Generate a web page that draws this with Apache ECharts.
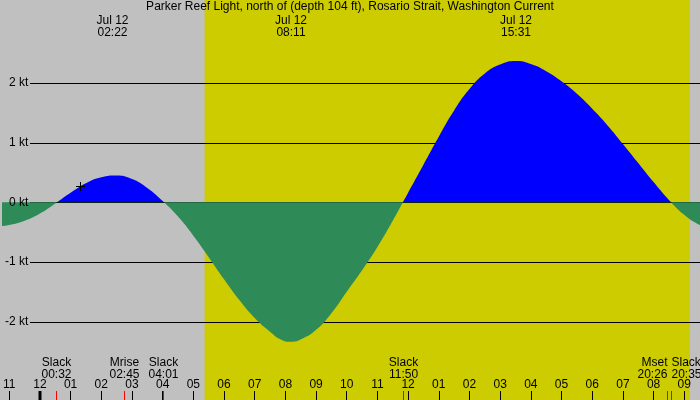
<!DOCTYPE html>
<html>
<head>
<meta charset="utf-8">
<script src="https://cdn.jsdelivr.net/npm/echarts@6/dist/echarts.min.js"></script>
<style>
  html, body { margin: 0; padding: 0; background: #c0c0c0; }
  #chart { width: 700px; height: 400px; }
</style>
</head>
<body>
<div id="chart"></div>
<script>
const title = "Parker Reef Light, north of (depth 104 ft), Rosario Strait, Washington Current";
const dateLabel = "Jul 12";

// current: hours after midnight, knots (+ flood, - ebb)
const hours = [-1.5, -1, -0.5, 0, 0.5, 1, 1.5, 2, 2.5, 3, 3.5, 4, 4.5, 5, 5.5, 6, 6.5, 7, 7.5,
  7.85, 8.18, 8.55, 9, 9.5, 10, 10.5, 11, 11.5, 12, 12.5, 13, 13.5, 14, 14.5, 15, 15.5, 16, 16.5,
  17, 17.5, 18, 18.5, 19, 19.5, 20, 20.5, 21, 21.5, 22];
const speeds = [-0.41, -0.38, -0.31, -0.19, -0.02, 0.16, 0.32, 0.42, 0.45, 0.39, 0.24, 0.02,
  -0.24, -0.56, -0.92, -1.29, -1.64, -1.94, -2.17, -2.30, -2.34, -2.29, -2.14, -1.86, -1.50, -1.14,
  -0.75, -0.31, 0.16, 0.63, 1.1, 1.54, 1.9, 2.16, 2.31, 2.37, 2.32, 2.20, 2.03, 1.82, 1.57,
  1.29, 0.98, 0.66, 0.34, 0.04, -0.21, -0.38, -0.48];

const extremes = ["02:22", "08:11", "15:31"];
const eventNames = ["Slack", "Mrise", "Slack", "Slack", "Mset", "Slack"];
const eventTimes = ["00:32", "02:45", "04:01", "11:50", "20:26", "20:35"];
const daylight = ["05:22", "21:11"];
const midnights = [0];
const nowMark = [1.32, 0.28];

const hourTicks = [-1, 0, 1, 2, 3, 4, 5, 6, 7, 8, 9, 10, 11, 12, 13, 14, 15, 16, 17, 18, 19, 20, 21];
const ktTicks = [-2, -1, 0, 1, 2];

const xMin = -1.221, xMax = 21.513;
const yMin = -3.317, yMax = 3.394;
const font = "Liberation Sans, Arial, sans-serif";

function toHours(s) {
  const [h, m] = s.split(":").map(Number);
  return h + m / 60;
}
function hourLabel(h) {
  const v = ((h % 12) + 12) % 12 || 12;
  return String(v).padStart(2, "0");
}

const curve = hours.map((h, i) => [h, speeds[i]]);
const eventHours = eventTimes.map(toHours);

// fill split at the zero line (grid covers the whole canvas)
const zeroAt = yMax / (yMax - yMin);
function splitFill(above, below) {
  return {
    type: "linear", x: 0, y: 0, x2: 0, y2: 400, global: true,
    colorStops: [
      { offset: 0, color: above },
      { offset: zeroAt, color: above },
      { offset: zeroAt, color: below },
      { offset: 1, color: below },
    ],
  };
}

const chart = echarts.init(document.getElementById("chart"));

const option = {
  backgroundColor: "#c0c0c0",
  animation: false,
  title: {
    text: title,
    left: "center",
    top: 1,
    padding: 0,
    textStyle: { fontSize: 12, fontWeight: "normal", color: "#000", fontFamily: font },
  },
  grid: { left: 0, right: 0, top: 0, bottom: 0 },
  xAxis: {
    type: "value",
    min: xMin,
    max: xMax,
    z: 10,
    axisLine: { show: false, onZero: false },
    splitLine: { show: false },
    axisTick: {
      inside: true,
      length: 9,
      customValues: hourTicks,
      lineStyle: { color: "#000", width: 1 },
    },
    axisLabel: {
      inside: true,
      margin: 9,
      customValues: hourTicks,
      formatter: (v) => hourLabel(v),
      color: "#000",
      fontSize: 12,
      fontFamily: font,
    },
  },
  yAxis: {
    type: "value",
    min: yMin,
    max: yMax,
    z: 10,
    axisLine: { show: false },
    splitLine: { show: false },
    axisTick: { show: false },
    axisLabel: {
      inside: true,
      align: "right",
      margin: 26,
      customValues: ktTicks,
      formatter: "{value} kt",
      color: "#000",
      fontSize: 12,
      fontFamily: font,
    },
  },
  series: [
    {
      // daylight band
      type: "custom",
      z: 1,
      silent: true,
      data: [daylight.map(toHours)],
      encode: { x: [0, 1] },
      renderItem: (params, api) => {
        const x1 = api.coord([api.value(0), 0])[0];
        const x2 = api.coord([api.value(1), 0])[0];
        return {
          type: "rect",
          shape: { x: x1, y: 0, width: x2 - x1, height: api.getHeight() },
          style: { fill: "#cccc00" },
        };
      },
    },
    {
      // grid lines
      type: "custom",
      z: 2,
      silent: true,
      data: ktTicks.filter((v) => v !== 0).map((v) => [v]),
      encode: { y: 0 },
      renderItem: (params, api) => {
        const y = Math.round(api.coord([xMin, api.value(0)])[1]) + 0.5;
        return {
          type: "line",
          shape: { x1: 30, y1: y, x2: api.getWidth(), y2: y },
          style: { stroke: "#000", lineWidth: 1 },
        };
      },
    },
    {
      name: "flood",
      type: "line",
      z: 3,
      smooth: 0.5,
      showSymbol: false,
      silent: true,
      data: curve,
      lineStyle: { width: 0, opacity: 0 },
      areaStyle: { opacity: 1, color: splitFill("#0000ff", "rgba(0,0,0,0)") },
    },
    {
      // zero line
      type: "custom",
      z: 4,
      silent: true,
      data: [[0]],
      encode: { y: 0 },
      renderItem: (params, api) => {
        const y = Math.round(api.coord([xMin, api.value(0)])[1]) + 0.5;
        return {
          type: "line",
          shape: { x1: 30, y1: y, x2: api.getWidth(), y2: y },
          style: { stroke: "#000", lineWidth: 1 },
        };
      },
    },
    {
      name: "ebb",
      type: "line",
      z: 5,
      smooth: 0.5,
      showSymbol: false,
      silent: true,
      data: curve,
      lineStyle: { width: 0, opacity: 0 },
      areaStyle: { opacity: 1, color: splitFill("rgba(0,0,0,0)", "#2e8b57") },
    },
    {
      // max flood / ebb times at the top
      type: "custom",
      z: 6,
      silent: true,
      data: extremes.map((t) => [toHours(t)]),
      encode: { x: 0 },
      renderItem: (params, api) => {
        const x = api.coord([api.value(0), 0])[0];
        return {
          type: "text",
          style: {
            text: dateLabel + "\n" + extremes[params.dataIndex],
            x: x,
            y: 14,
            align: "center",
            verticalAlign: "top",
            lineHeight: 12.5,
            fontSize: 12,
            fontFamily: font,
            fill: "#000",
          },
        };
      },
    },
    {
      // slack / moon events along the bottom
      type: "custom",
      z: 6,
      silent: true,
      data: eventHours.map((t) => [t]),
      encode: { x: 0 },
      renderItem: (params, api) => {
        const i = params.dataIndex;
        const t = api.value(0);
        const x = Math.round(api.coord([t, 0])[0]);
        const h = api.getHeight();
        let align = "center";
        if (i < eventHours.length - 1 && eventHours[i + 1] - t < 0.5) align = "right";
        else if (i > 0 && t - eventHours[i - 1] < 0.5) align = "left";
        return {
          type: "group",
          children: [
            {
              type: "rect",
              shape: { x: x, y: h - 9, width: 1, height: 9 },
              style: { fill: "#ff0000" },
            },
            {
              type: "text",
              style: {
                text: eventNames[i] + "\n" + eventTimes[i],
                x: x + 0.5,
                y: h - 43,
                align: align,
                verticalAlign: "top",
                lineHeight: 12,
                fontSize: 12,
                fontFamily: font,
                fill: "#000",
              },
            },
          ],
        };
      },
    },
    {
      // day change tick
      type: "custom",
      z: 6,
      silent: true,
      data: midnights.map((t) => [t]),
      encode: { x: 0 },
      renderItem: (params, api) => {
        const x = api.coord([api.value(0), 0])[0];
        const h = api.getHeight();
        return {
          type: "rect",
          shape: { x: Math.round(x) - 1.5, y: h - 9, width: 3, height: 9 },
          style: { fill: "#000" },
        };
      },
    },
    {
      // current time marker
      type: "custom",
      z: 6,
      silent: true,
      data: [nowMark],
      renderItem: (params, api) => {
        const p = api.coord([api.value(0), api.value(1)]);
        const x = Math.round(p[0]) + 0.5, y = Math.round(p[1]) + 0.5;
        return {
          type: "group",
          children: [
            { type: "line", shape: { x1: x - 4.5, y1: y, x2: x + 4.5, y2: y }, style: { stroke: "#000", lineWidth: 1 } },
            { type: "line", shape: { x1: x, y1: y - 4.5, x2: x, y2: y + 4.5 }, style: { stroke: "#000", lineWidth: 1 } },
          ],
        };
      },
    },
  ],
};

chart.setOption(option);
</script>
</body>
</html>
